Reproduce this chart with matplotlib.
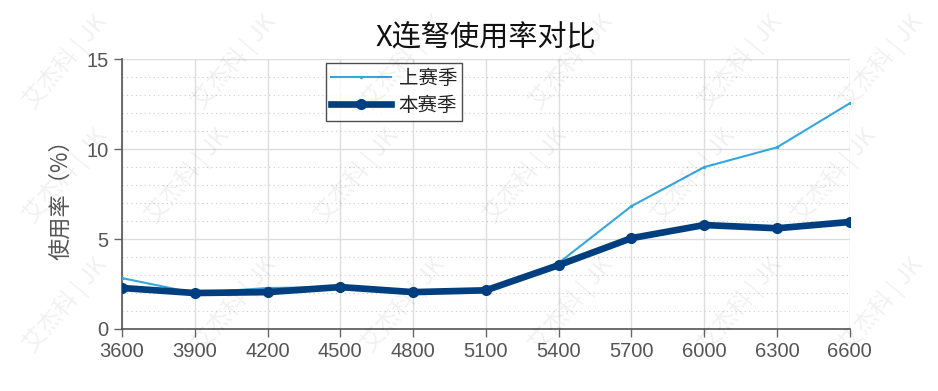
import matplotlib
matplotlib.use("Agg")
import matplotlib.pyplot as plt
import numpy as np

plt.rcParams['font.family'] = ['Liberation Sans', 'Noto Sans CJK SC', 'DejaVu Sans']

x_vals = [3600, 3900, 4200, 4500, 4800, 5100, 5400, 5700, 6000, 6300, 6600]
last_season = [2.83, 2.0, 2.28, 2.33, 2.05, 2.15, 3.67, 6.83, 9.0, 10.1, 12.55]
this_season = [2.28, 2.0, 2.05, 2.33, 2.05, 2.15, 3.55, 5.05, 5.78, 5.6, 5.95]
y_ticks = [0, 5, 10, 15]
title = "X连弩使用率对比"
ylabel = "使用率（%）"
labels = ["上赛季", "本赛季"]
watermark = "艾杰科 | JK"

fig = plt.figure(figsize=(9.38, 3.91), dpi=100)
ax = fig.add_axes([0.130, 0.1586, 0.776, 0.690])

ax.plot(x_vals, last_season, color='#35a7dd', lw=1.5, marker='.', ms=3, label=labels[0], zorder=3)
ax.plot(x_vals, this_season, color='#003f7f', lw=4.8, marker='o', ms=7, label=labels[1], zorder=4)

ax.set_xlim(3600, 6600)
ax.set_ylim(0, 15)
ax.set_xticks(x_vals)
ax.set_yticks(y_ticks)
ax.set_yticks(np.arange(0, 16, 1), minor=True)
ax.tick_params(axis='y', which='minor', length=0)
ax.tick_params(which='major', direction='out', length=6, colors='#666666', labelsize=14.5, width=1)
for lab in ax.get_xticklabels() + ax.get_yticklabels():
    lab.set_color('#555555')

ax.grid(True, which='major', color='#dddddd', lw=1, zorder=0)
ax.grid(True, which='minor', axis='y', color='#cccccc', lw=0.8, ls=(0, (1, 3)), zorder=0)
ax.set_axisbelow(True)
for s in ['top', 'right']:
    ax.spines[s].set_visible(False)
for s in ['left', 'bottom']:
    ax.spines[s].set_color('#555555')
    ax.spines[s].set_linewidth(1.2)

ax.set_title(title, fontsize=21, color='#111111', pad=9, family=['Noto Sans CJK SC'], fontweight='light')
ax.set_ylabel(ylabel, fontsize=16, color='#555555', family=['Noto Sans CJK SC'], labelpad=10)

leg = ax.legend(loc='upper left', bbox_to_anchor=(0.28, 0.985), borderaxespad=0, frameon=True,
                fancybox=False, edgecolor='#222222', prop={'family': ['Noto Sans CJK SC'], 'size': 14},
                handlelength=3.1, borderpad=0.25, labelspacing=0.3, handletextpad=0.4)
leg.get_frame().set_linewidth(1.0)
for t in leg.get_texts():
    t.set_color('#222222')

# watermark (kept fully inside the figure)
wm_x = [0.07, 0.25, 0.43, 0.61, 0.79, 0.94]
wm_y = [0.22, 0.55, 0.84]
for r, yy in enumerate(wm_y):
    for c, xx in enumerate(wm_x):
        shift = -0.05 if (r == 1 and c > 0) else 0
        fig.text(xx + shift, yy, watermark,
                 rotation=50, fontsize=17, color='#000000', alpha=0.06,
                 family=['Noto Sans CJK SC'], ha='center', va='center', zorder=0)

fig.savefig("out.png", dpi=100)
